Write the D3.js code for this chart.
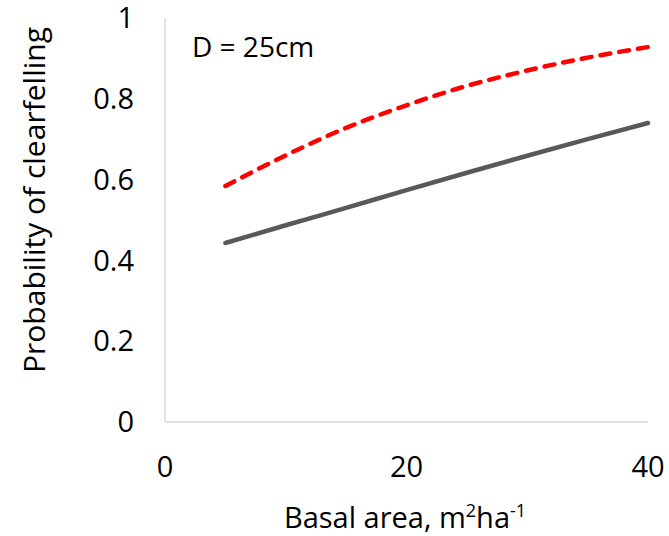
<!DOCTYPE html>
<html>
<head>
<meta charset="utf-8">
<script src="https://cdn.jsdelivr.net/npm/d3@7"></script>
<style>
  html, body { margin: 0; padding: 0; background: #fff; }
  svg { display: block; }
  text { font-family: "Open Sans", "Noto Sans", sans-serif; fill: #000; }
</style>
</head>
<body>
<svg id="chart" width="669" height="536"></svg>
<script>
// Data
const basalArea = [5, 10, 15, 20, 25, 30, 35, 40];
const seriesGrey = [0.443, 0.487, 0.530, 0.574, 0.617, 0.659, 0.700, 0.740];
const seriesRed  = [0.584, 0.660, 0.728, 0.784, 0.832, 0.870, 0.902, 0.928];
const xTicks = [0, 20, 40];
const yTicks = [0, 0.2, 0.4, 0.6, 0.8, 1];
const annotation = "D = 25cm";

const svg = d3.select("#chart");
const plotLeft = 165, plotRight = 648, plotTop = 18, plotBottom = 422;

const x = d3.scaleLinear().domain([0, 40]).range([plotLeft, plotRight]);
const y = d3.scaleLinear().domain([0, 1]).range([plotBottom, plotTop]);

// axis lines
svg.append("line").attr("x1", plotLeft).attr("x2", plotLeft).attr("y1", plotTop).attr("y2", plotBottom)
  .attr("stroke", "#d9d9d9").attr("stroke-width", 1.5);
svg.append("line").attr("x1", plotLeft).attr("x2", plotRight).attr("y1", plotBottom).attr("y2", plotBottom)
  .attr("stroke", "#d9d9d9").attr("stroke-width", 1.5);

// y tick labels
svg.selectAll(".ytick").data(yTicks).enter().append("text")
  .attr("x", 134).attr("y", d => y(d)).attr("dy", "0.35em")
  .attr("text-anchor", "end").attr("font-size", 29)
  .text(d => d3.format("~g")(d));

// x tick labels
svg.selectAll(".xtick").data(xTicks).enter().append("text")
  .attr("x", d => x(d)).attr("y", 467).attr("dy", "0.35em")
  .attr("text-anchor", "middle").attr("font-size", 29)
  .text(d => d);

// axis titles
svg.append("text")
  .attr("transform", "translate(45,200) rotate(-90)")
  .attr("text-anchor", "middle").attr("font-size", 30)
  .text("Probability of clearfelling");

const xt = svg.append("text").attr("x", 405).attr("y", 528)
  .attr("text-anchor", "middle").attr("font-size", 29);
xt.append("tspan").text("Basal area, m");
xt.append("tspan").attr("dy", -11).attr("font-size", 18).text("2");
xt.append("tspan").attr("dy", 11).text("ha");
xt.append("tspan").attr("dy", -11).attr("font-size", 18).text("-1");

// annotation
svg.append("text").attr("x", 192).attr("y", 57).attr("font-size", 28).text(annotation);

const line = d3.line().x((d, i) => x(basalArea[i])).y(d => y(d)).curve(d3.curveMonotoneX);

svg.append("path").datum(seriesGrey).attr("d", line)
  .attr("fill", "none").attr("stroke", "#595959").attr("stroke-width", 4.5)
  .attr("stroke-linecap", "round");

svg.append("path").datum(seriesRed).attr("d", line)
  .attr("fill", "none").attr("stroke", "#ff0000").attr("stroke-width", 4.5)
  .attr("stroke-linecap", "round").attr("stroke-dasharray", "10,9");
</script>
</body>
</html>
